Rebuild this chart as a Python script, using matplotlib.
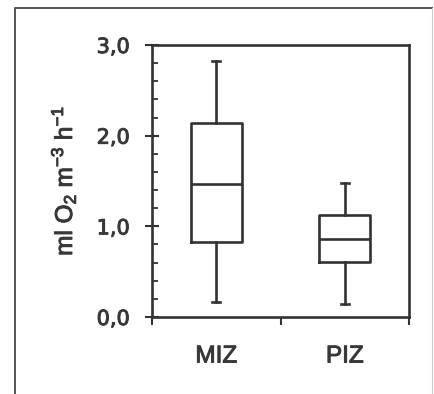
import matplotlib
matplotlib.use("Agg")
import matplotlib.pyplot as plt
import matplotlib.patheffects as pe
from matplotlib.ticker import FixedLocator, MultipleLocator, NullFormatter
from matplotlib.lines import Line2D

categories = ["MIZ", "PIZ"]
whisker_low = [0.16, 0.14]
q1 = [0.83, 0.61]
median = [1.47, 0.86]
q3 = [2.14, 1.12]
whisker_high = [2.82, 1.48]
y_ticks = [0.0, 1.0, 2.0, 3.0]
y_tick_labels = ["0,0", "1,0", "2,0", "3,0"]

plt.rcParams['font.family'] = ['Liberation Sans', 'DejaVu Sans']
plt.rcParams['mathtext.fontset'] = 'custom'
plt.rcParams['mathtext.rm'] = 'Liberation Sans'
plt.rcParams['mathtext.it'] = 'Liberation Sans'

ink = '#333333'
txt = '#383838'
thick = [pe.withStroke(linewidth=0.7, foreground=txt)]

fig = plt.figure(figsize=(4.34, 3.94), dpi=100)
fig.patch.set_facecolor('white')

# outer frame
W, H = 434, 394
fig.add_artist(Line2D([15/W, 15/W, 432/W], [0, (H-8)/H, (H-8)/H],
                      transform=fig.transFigure, color='#555555', lw=1.4))
fig.add_artist(Line2D([432/W, 432/W], [(H-8)/H, 0],
                      transform=fig.transFigure, color='#cccccc', lw=0.8))

ax = fig.add_axes([152/W, (H-317)/H, 257/W, 272/H])

stats = []
for i, c in enumerate(categories):
    stats.append(dict(label=c, whislo=whisker_low[i], q1=q1[i], med=median[i],
                      q3=q3[i], whishi=whisker_high[i], fliers=[]))
positions = [0.5 + i for i in range(len(categories))]
lw = 1.9
ax.bxp(stats, positions=positions, widths=0.4, showfliers=False,
       boxprops=dict(color=ink, lw=lw),
       medianprops=dict(color=ink, lw=lw),
       whiskerprops=dict(color=ink, lw=lw),
       capprops=dict(color=ink, lw=lw),
       capwidths=0.065)

ax.set_xlim(0, 2)
ax.set_ylim(0, 3)
for s in ax.spines.values():
    s.set_color(ink)
    s.set_linewidth(1.9)

ax.yaxis.set_major_locator(FixedLocator(y_ticks))
ax.set_yticklabels(y_tick_labels, fontfamily='DejaVu Sans')
ax.yaxis.set_minor_locator(MultipleLocator(0.2))
ax.tick_params(axis='y', which='major', direction='inout', length=10, width=1.5,
               color=ink, labelsize=15, labelcolor=txt, pad=11)
ax.tick_params(axis='y', which='minor', direction='in', length=4.3, width=1.3, color=ink)

ax.xaxis.set_major_locator(FixedLocator([0, 1, 2]))
ax.xaxis.set_major_formatter(NullFormatter())
ax.xaxis.set_minor_locator(FixedLocator(positions))
ax.set_xticklabels(categories, minor=True)
ax.tick_params(axis='x', which='major', direction='out', length=6, width=1.5, color=ink)
ax.tick_params(axis='x', which='minor', length=0, labelsize=17.5, labelcolor=txt, pad=20.5)

ax.set_ylabel(r'ml O$_2$ m$^{-3}$ h$^{-1}$', fontsize=17.5, color=txt)
ax.yaxis.set_label_coords(-74/257, 0.5)

for t in ax.get_yticklabels() + ax.get_xticklabels(minor=True) + [ax.yaxis.label]:
    t.set_path_effects(thick)

fig.savefig('out.png', dpi=100, facecolor='white')
